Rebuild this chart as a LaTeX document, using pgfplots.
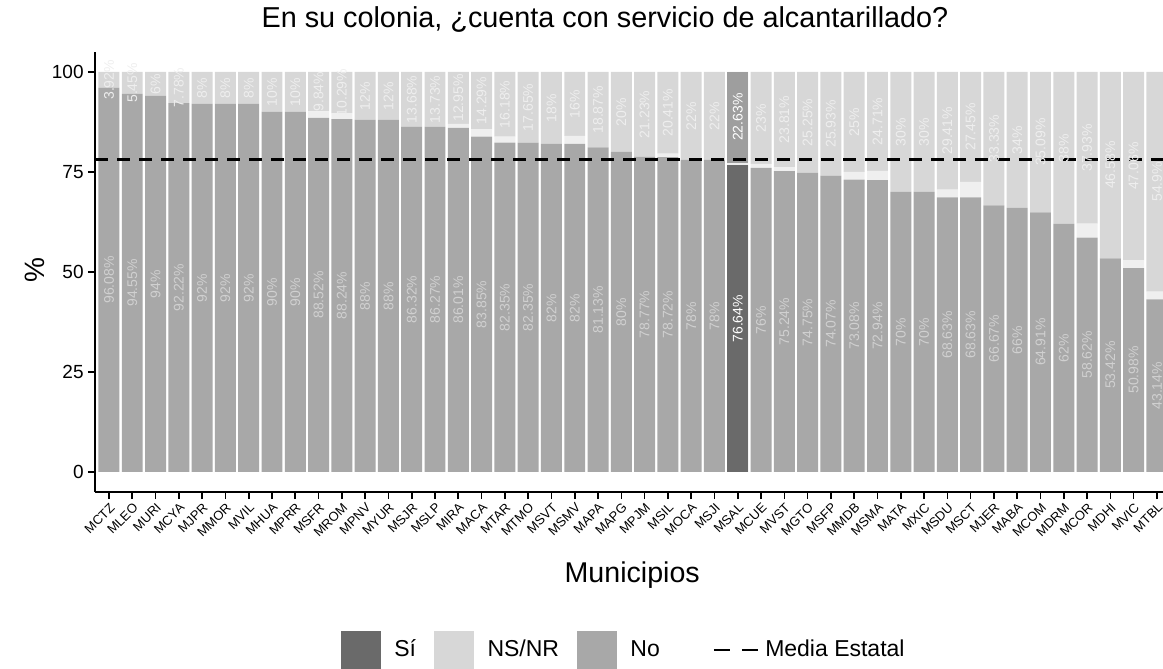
\documentclass[border=0pt]{standalone}
\usepackage{pgfplots}
\pgfplotsset{compat=1.18}
\usepackage{pgfplotstable}
\usepackage{fontspec}
\setmainfont{Liberation Sans}

\definecolor{cMain}{HTML}{A8A8A8}
\definecolor{cTop}{HTML}{D7D7D7}
\definecolor{cNS}{HTML}{EFEFEF}
\definecolor{cSi}{HTML}{6A6A6A}
\definecolor{cSiTop}{HTML}{9E9E9E}
\definecolor{cLabB}{HTML}{D0D0D0}
\definecolor{cLabT}{HTML}{EEEEEE}

\pgfplotstableread{
idx si ns no
0 96.08 0 3.92
1 94.55 0 5.45
2 94 0 6
3 92.22 0 7.78
4 92 0 8
5 92 0 8
6 92 0 8
7 90 0 10
8 90 0 10
9 88.52 1.64 9.84
10 88.24 1.47 10.29
11 88 0 12
12 88 0 12
13 86.32 0 13.68
14 86.27 0 13.73
15 86.01 1.04 12.95
16 83.85 1.86 14.29
17 82.35 1.47 16.18
18 82.35 0 17.65
19 82 0 18
20 82 2 16
21 81.13 0 18.87
22 80 0 20
23 78.77 0 21.23
24 78.72 0.87 20.41
25 78 0 22
26 78 0 22
27 76.64 0.73 22.63
28 76 1 23
29 75.24 0.95 23.81
30 74.75 0 25.25
31 74.07 0 25.93
32 73.08 1.92 25
33 72.94 2.35 24.71
34 70 0 30
35 70 0 30
36 68.63 1.96 29.41
37 68.63 3.92 27.45
38 66.67 0 33.33
39 66 0 34
40 64.91 0 35.09
41 62 0 38
42 58.62 3.45 37.93
43 53.42 0 46.58
44 50.98 1.96 47.06
45 43.14 1.96 54.9
}\maindata

\pgfplotstableread{
idx si ns no
27 76.64 0.73 22.63
}\hldata

\pgfplotsset{
  /pgf/number format/assume math mode=true,
  every axis title shift=0pt,
  base/.style={
    at={(0pt,0pt)}, anchor=south west,
    scale only axis, width=534pt, height=220pt,
    xmin=-0.6, xmax=45.26, ymin=-5, ymax=105,
  },
  lab/.style={
    forget plot, draw=none, mark=*, mark size=0pt,
    mark options={draw=none, fill=none},
    point meta=explicit,
    nodes near coords={\pgfmathprintnumber[fixed,precision=2]{\pgfplotspointmeta}\%},
    every node near coord/.append style={rotate=90, anchor=center,
      font=\fontsize{7}{8}\selectfont, inner sep=0pt, text opacity=1},
  },
}

\begin{document}
\begin{tikzpicture}
\useasboundingbox (-47.5pt,-88.5pt) rectangle (534pt,246pt);

% main bars
\begin{axis}[base,
  ybar stacked, bar width=0.9,
  axis x line*=bottom, axis y line*=left,
  axis line style={line width=1pt, black},
  xtick={0,...,45},
  xticklabels={MCTZ,MLEO,MURI,MCYA,MJPR,MMOR,MVIL,MHUA,MPRR,MSFR,MROM,MPNV,MYUR,MSJR,MSLP,MIRA,MACA,MTAR,MTMO,MSVT,MSMV,MAPA,MAPG,MPJM,MSIL,MOCA,MSJI,MSAL,MCUE,MVST,MGTO,MSFP,MMDB,MSMA,MATA,MXIC,MSDU,MSCT,MJER,MABA,MCOM,MDRM,MCOR,MDHI,MVIC,MTBL},
  ytick={0,25,50,75,100},
  tick align=outside, major tick length=3.5pt,
  tick style={black, line width=0.8pt},
  xticklabel style={rotate=45, anchor=north east, font=\fontsize{6.5}{7}\selectfont, inner sep=1pt},
  yticklabel style={font=\fontsize{9.5}{11}\selectfont, inner sep=2pt},
  title={En su colonia, ¿cuenta con servicio de alcantarillado?},
  title style={at={(0.4775,1.0727)}, anchor=center, font=\fontsize{14.4}{16}\selectfont},
  xlabel={Municipios},
  xlabel style={at={(0.503,-0.189)}, anchor=center, font=\fontsize{14.3}{16}\selectfont},
  ylabel={\%},
  ylabel style={at={(-0.056,0.505)}, anchor=center, font=\fontsize{14}{16}\selectfont},
]
\addplot[fill=cMain, draw=none] table[x=idx, y=si]{\maindata};
\addplot[fill=cNS, draw=none] table[x=idx, y=ns]{\maindata};
\addplot[fill=cTop, draw=none] table[x=idx, y=no]{\maindata};
\end{axis}

% highlighted state bar
\begin{axis}[base, hide axis, ybar stacked, bar width=0.9]
\addplot[fill=cSi, draw=none] table[x=idx, y=si]{\hldata};
\addplot[fill=cNS, draw=none] table[x=idx, y=ns]{\hldata};
\addplot[fill=cSiTop, draw=none] table[x=idx, y=no]{\hldata};
\end{axis}

% mean line, labels, legend
\begin{axis}[base, hide axis,
  legend style={at={(0.497,-0.359)}, anchor=center, draw=none, fill=none,
    font=\fontsize{11.5}{13}\selectfont,
    nodes={text height=1.6ex, text depth=0.3ex, inner xsep=3pt},
    /tikz/every even column/.append style={column sep=6pt}},
  legend columns=4,
]
\addlegendimage{legend image code/.code={\fill[cSi] (0pt,-9.5pt) rectangle (19.5pt,9.5pt);\path[draw=none,fill=none] (0pt,0pt) -- (23.5pt,0pt);}}
\addlegendentry{Sí}
\addlegendimage{legend image code/.code={\fill[cTop] (0pt,-9.5pt) rectangle (19.5pt,9.5pt);\path[draw=none,fill=none] (0pt,0pt) -- (23.5pt,0pt);}}
\addlegendentry{NS/NR}
\addlegendimage{legend image code/.code={\fill[cMain] (0pt,-9.5pt) rectangle (19.5pt,9.5pt);\path[draw=none,fill=none] (0pt,0pt) -- (23.5pt,0pt);}}
\addlegendentry{No}
\addlegendimage{legend image code/.code={\path[draw=none,fill=none] (0pt,0pt) -- (18pt,0pt);\draw[black, line width=1.4pt, dash pattern=on 8pt off 6pt] (18pt,0pt) -- (40pt,0pt);}}
\addlegendentry{Media Estatal}

\addplot[forget plot, black, line width=1.5pt, dash pattern=on 6.5pt off 4.5pt]
  coordinates {(-0.6,78.2) (45.26,78.2)};

\addplot[lab, skip coords between index={27}{28},
  every node near coord/.append style={text=cLabB}]
  table[x=idx, y expr=\thisrow{si}/2, meta=si]{\maindata};
\addplot[lab, skip coords between index={27}{28},
  every node near coord/.append style={text=cLabT}]
  table[x=idx, y expr=100-\thisrow{no}/2, meta=no]{\maindata};
\addplot[lab, every node near coord/.append style={text=white}]
  table[x=idx, y expr=\thisrow{si}/2, meta=si]{\hldata};
\addplot[lab, every node near coord/.append style={text=white}]
  table[x=idx, y expr=100-\thisrow{no}/2, meta=no]{\hldata};
\end{axis}
\end{tikzpicture}
\end{document}
